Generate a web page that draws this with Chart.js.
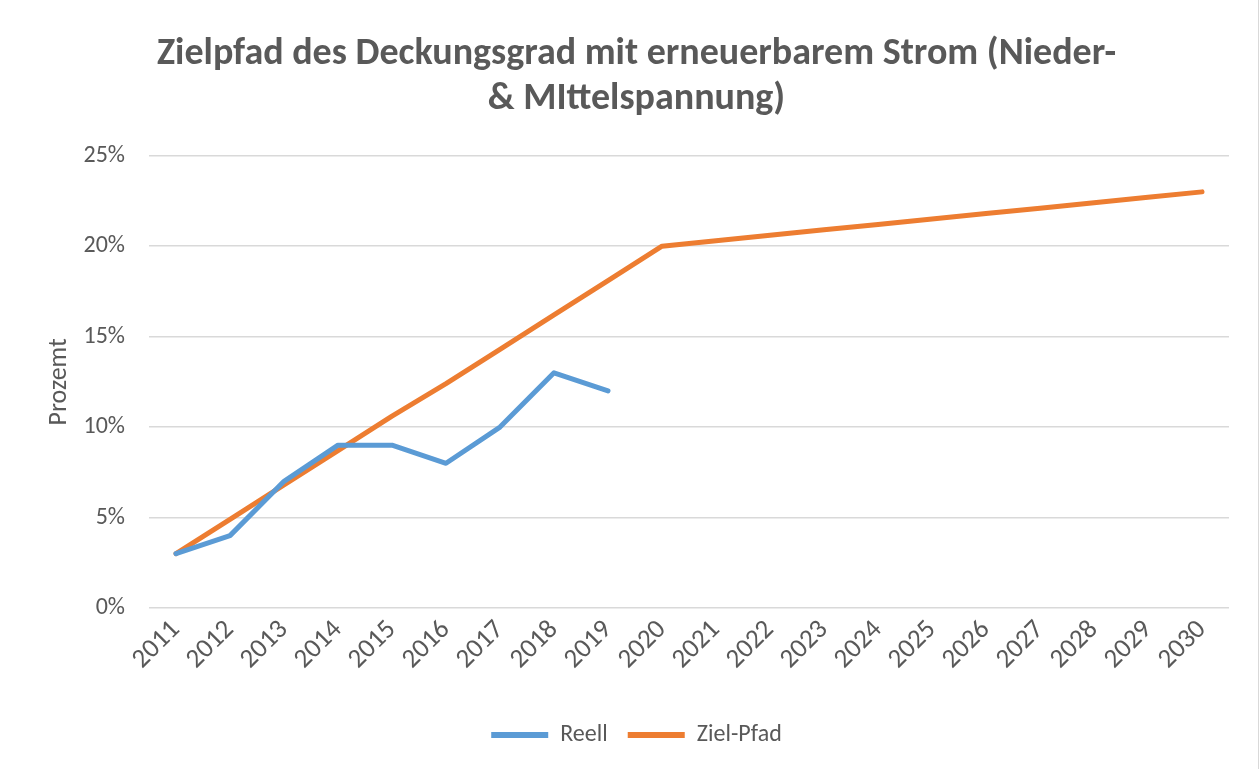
<!DOCTYPE html>
<html>
<head>
<meta charset="utf-8">
<script src="https://cdn.jsdelivr.net/npm/chart.js@4.4.1/dist/chart.umd.min.js"></script>
<style>
  html, body { margin: 0; padding: 0; background: #fff; }
  #wrap { position: relative; width: 1259px; height: 769px; box-sizing: border-box; border-right: 1px solid #d9d9d9; }
  canvas { display: block; }
</style>
</head>
<body>
<div id="wrap"><canvas id="chart" width="1258" height="769"></canvas></div>
<script>
// Jahre auf der x-Achse
var years = ['2011','2012','2013','2014','2015','2016','2017','2018','2019','2020',
	'2021','2022','2023','2024','2025','2026','2027','2028','2029','2030'];

// gemessener Deckungsgrad (%)
var reell = [3, 4, 7, 9, 9, 8, 10, 13, 12];

// Zielpfad (%)
var zielPfad = [3, 4.9, 6.8, 8.7, 10.6, 12.4, 14.3, 16.2, 18.1, 20,
	20.3, 20.6, 20.9, 21.2, 21.5, 21.8, 22.1, 22.4, 22.7, 23];

var yTicks = [0, 5, 10, 15, 20, 25];

var fontFamily = 'Carlito, Calibri, Lato, "Open Sans", sans-serif';
var grey = '#595959';

Chart.defaults.font.family = fontFamily;
Chart.defaults.color = grey;

var ctx = document.getElementById('chart').getContext('2d');
var chart = new Chart(ctx, {
	type: 'line',
	data: {
		labels: years,
		datasets: [{
			label: 'Reell',
			data: reell,
			borderColor: '#5B9BD5',
			backgroundColor: '#5B9BD5',
			borderWidth: 5,
			pointRadius: 0,
			borderCapStyle: 'round',
			borderJoinStyle: 'round',
			tension: 0
		}, {
			label: 'Ziel-Pfad',
			data: zielPfad,
			borderColor: '#ED7D31',
			backgroundColor: '#ED7D31',
			borderWidth: 5,
			pointRadius: 0,
			borderCapStyle: 'round',
			borderJoinStyle: 'round',
			tension: 0
		}]
	},
	options: {
		responsive: false,
		animation: false,
		layout: { padding: { left: 44, right: 29, top: 32, bottom: 12 } },
		plugins: {
			title: {
				display: true,
				text: ['Zielpfad des Deckungsgrad mit erneuerbarem Strom (Nieder-', '& MIttelspannung)'],
				color: grey,
				font: { size: 38, weight: 'bold', lineHeight: 1.18 },
				padding: { top: 0, bottom: 34 }
			},
			legend: {
				position: 'bottom',
				labels: {
					color: grey,
					font: { size: 24 },
					boxWidth: 57,
					boxHeight: 0,
					padding: 20,
					generateLabels: function(c) {
						return c.data.datasets.map(function(ds, i) {
							return {
								text: ds.label,
								strokeStyle: ds.borderColor,
								fillStyle: ds.borderColor,
								lineWidth: 6,
								lineCap: 'round',
								datasetIndex: i,
								fontColor: grey
							};
						});
					}
				}
			},
			tooltip: { enabled: false }
		},
		scales: {
			x: {
				offset: true,
				grid: { display: false, drawTicks: false },
				border: { display: false },
				ticks: { minRotation: 45, maxRotation: 45, font: { size: 27 }, color: grey, padding: 6, autoSkip: false },
				afterFit: function(scale) { scale.height = 95; }
			},
			y: {
				min: 0,
				max: 25,
				afterBuildTicks: function(scale) {
					scale.ticks = yTicks.map(function(v) { return { value: v }; });
				},
				afterFit: function(scale) { scale.width = 105; },
				grid: { color: '#d9d9d9', lineWidth: 1.5, drawTicks: false },
				border: { display: false },
				ticks: {
					font: { size: 24 },
					color: grey,
					padding: 24,
					callback: function(v) { return v + '%'; }
				},
				title: {
					display: true,
					text: 'Prozemt',
					color: grey,
					font: { size: 26 },
					padding: { top: 0, bottom: 0 }
				}
			}
		}
	}
});
</script>
</body>
</html>
